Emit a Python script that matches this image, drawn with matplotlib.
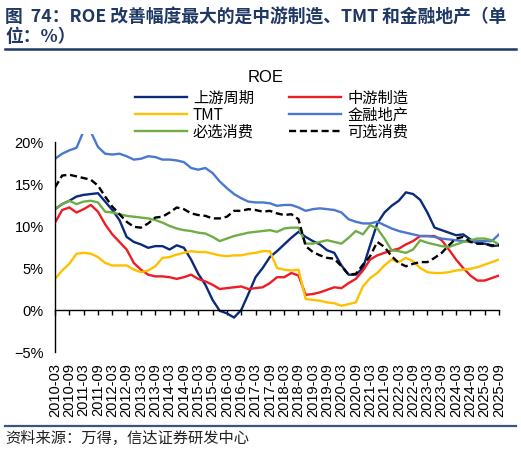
import matplotlib
matplotlib.use('Agg')

import matplotlib.pyplot as plt
from matplotlib.lines import Line2D
import pandas as pd

plt.rcParams['font.family'] = ['Liberation Sans', 'Noto Sans CJK SC', 'DejaVu Sans']
plt.rcParams['axes.unicode_minus'] = True

# quarterly, 2010-03 .. 2025-09
quarters = [p.strftime('%Y-%m') for p in pd.period_range('2010-03', '2025-09', freq='Q-DEC').to_timestamp(how='end')]

upstream = [12.0, 12.6, 13.0, 13.5, 13.7, 13.8, 13.9, 12.9, 11.9, 10.7,
            8.7, 8.1, 7.8, 7.4, 7.6, 7.6, 7.2, 7.7, 7.4, 6.0,
            4.3, 3.0, 1.2, -0.1, -0.4, -0.9, 0.0, 1.9, 3.9, 5.0,
            6.3, 7.0, 7.8, 8.6, 9.3, 8.7, 8.2, 7.8, 7.1, 6.8,
            5.3, 4.2, 4.2, 5.0, 7.7, 10.3, 11.6, 12.4, 13.0, 14.0,
            13.8, 13.1, 11.6, 9.8, 9.5, 9.2, 8.9, 9.0, 8.4, 7.9,
            7.9, 7.6, 7.7]
midstream = [10.4, 11.9, 12.2, 11.6, 12.0, 12.5, 11.7, 10.2, 9.0, 8.1,
             7.2, 5.6, 4.8, 4.2, 4.0, 4.0, 3.9, 3.7, 3.9, 4.2,
             3.7, 3.4, 3.0, 2.5, 2.6, 2.7, 2.8, 2.5, 2.6, 2.7,
             3.2, 3.9, 3.9, 4.4, 4.1, 1.8, 1.9, 2.1, 2.4, 2.7,
             2.6, 3.2, 3.7, 4.7, 6.0, 6.5, 6.8, 7.1, 7.3, 7.8,
             8.2, 8.8, 8.8, 8.8, 8.3, 7.2, 6.0, 5.0, 4.1, 3.5,
             3.5, 3.8, 4.1]
tmt = [3.7, 4.7, 5.5, 6.7, 6.8, 6.7, 6.3, 5.6, 5.3, 5.3,
       5.3, 4.8, 4.5, 4.7, 5.2, 6.2, 6.3, 6.6, 6.8, 7.0,
       6.9, 6.9, 6.7, 6.5, 6.4, 6.5, 6.5, 6.7, 6.8, 7.0,
       7.0, 5.0, 4.8, 4.7, 4.8, 1.3, 1.2, 1.1, 0.9, 0.8,
       0.5, 0.7, 0.9, 2.8, 3.8, 4.4, 5.3, 6.0, 5.7, 6.2,
       5.8, 5.0, 4.5, 4.4, 4.4, 4.5, 4.7, 4.8, 4.9, 5.1,
       5.4, 5.7, 6.0]
finance = [18.0, 18.6, 19.0, 19.3, 21.3, 21.2, 19.4, 18.6, 18.5, 18.6,
           18.3, 17.9, 18.0, 18.3, 18.2, 17.9, 17.9, 17.8, 17.6, 16.9,
           16.7, 16.9, 16.3, 15.3, 14.5, 13.8, 13.3, 12.9, 12.8, 12.8,
           12.7, 12.4, 12.5, 12.5, 12.2, 11.8, 12.0, 12.1, 12.0, 11.9,
           11.6, 10.8, 10.5, 10.3, 10.3, 10.5, 10.1, 9.7, 9.4, 9.2,
           9.0, 8.8, 8.8, 8.7, 8.5, 8.4, 8.3, 8.2, 8.1, 8.2,
           8.2, 8.2, 9.0]
staples = [12.0, 12.6, 13.0, 12.6, 12.9, 13.0, 12.8, 11.7, 11.6, 11.4,
           11.2, 11.1, 11.0, 10.9, 10.7, 10.4, 10.0, 9.7, 9.5, 9.4,
           9.2, 9.1, 8.7, 8.2, 8.5, 8.8, 9.0, 9.2, 9.3, 9.4,
           9.5, 9.3, 9.7, 9.8, 9.8, 7.9, 7.9, 8.1, 8.3, 8.1,
           7.9, 8.6, 9.4, 9.0, 10.1, 9.7, 8.5, 7.1, 7.0, 6.8,
           7.2, 8.3, 8.0, 7.8, 7.6, 7.5, 7.8, 8.1, 8.3, 8.5,
           8.5, 8.3, 7.8]
discretionary = [14.6, 16.0, 16.1, 15.9, 15.7, 15.5, 14.8, 13.5, 12.3, 11.4,
                 10.5, 9.9, 9.8, 10.3, 11.0, 11.1, 11.6, 12.2, 12.0, 11.5,
                 11.3, 11.2, 10.9, 10.9, 11.1, 11.8, 11.8, 12.0, 11.9, 11.7,
                 11.8, 11.5, 11.3, 11.4, 10.8, 7.6, 6.9, 6.5, 6.2, 6.1,
                 5.2, 4.2, 4.3, 5.4, 6.4, 8.1, 7.5, 6.4, 5.6, 5.2,
                 5.5, 5.7, 5.7, 6.2, 6.8, 7.7, 8.5, 8.7, 8.1, 7.9,
                 7.9, 7.7, 7.7]

yticks = [-5, 0, 5, 10, 15, 20]
cjk = ['Noto Sans CJK SC', 'DejaVu Sans']

fig = plt.figure(figsize=(5.21, 4.56), dpi=100)
ax = fig.add_axes([0.1056, 0.2259, 0.8522, 0.4772])

x = range(len(quarters))
l1, = ax.plot(x, upstream, color='#0B2A7A', lw=1.7)
l2, = ax.plot(x, midstream, color='#EE1C25', lw=1.7)
l3, = ax.plot(x, tmt, color='#FFC000', lw=1.7)
l4, = ax.plot(x, finance, color='#4A78CF', lw=1.7)
l5, = ax.plot(x, staples, color='#6FAD47', lw=1.7)
l6, = ax.plot(x, discretionary, color='black', lw=1.7, ls=(0, (3, 1.6)))

ax.set_xlim(0, len(quarters) - 1)
ax.set_ylim(-5, 20.9)

for s in ['top', 'right']:
    ax.spines[s].set_visible(False)
ax.spines['left'].set_bounds(-5, 20)
ax.spines['bottom'].set_position(('data', 0))
for s in ['left', 'bottom']:
    ax.spines[s].set_linewidth(1.0)

ax.set_yticks(yticks)
ax.set_yticklabels([f'{v}%'.replace('-', '\u2212') for v in yticks], fontsize=10.5)
ax.tick_params(axis='y', which='major', length=0, pad=8)
ax.set_yticks([-5, 0, 20], minor=True)
ax.tick_params(axis='y', which='minor', length=3, width=1.0, direction='out')

ax.set_xticks(list(x)[::2])
ax.set_xticklabels(quarters[::2], rotation=90, fontsize=10.5, va='top', ha='center')
ax.tick_params(axis='x', length=3.5, width=1.0, direction='out', pad=34)

fig.text(0.509, 0.829, 'ROE', ha='center', va='center', fontsize=12)
# legend fills column-wise, so order handles to read row-wise like the reference
leg = fig.legend([l1, l3, l5, l2, l4, l6],
                 ['上游周期', 'TMT', '必选消费', '中游制造', '金融地产', '可选消费'],
                 ncol=2, loc='center', bbox_to_anchor=(0.521, 0.747), frameon=False,
                 prop={'family': cjk, 'size': 11}, handlelength=3.4, handletextpad=0.4,
                 columnspacing=2.3, labelspacing=0.0, borderpad=0)

title_color = '#1F3864'
fig.text(0.0096, 0.982, '图  74：ROE 改善幅度最大的是中游制造、TMT 和金融地产（单',
         ha='left', va='top', fontsize=12.8, fontweight='bold', color=title_color, family=cjk)
fig.text(0.0096, 0.938, '位：%）', ha='left', va='top', fontsize=12.8, fontweight='bold',
         color=title_color, family=cjk)
fig.add_artist(Line2D([0.0096, 0.99], [1 - 49.5 / 456] * 2, color=title_color, lw=1.8))
fig.add_artist(Line2D([0.0096, 0.99], [1 - 426.5 / 456] * 2, color='#3A5382', lw=1.6))
fig.text(0.0096, 0.039, '资料来源：万得，信达证券研发中心', ha='left', va='center',
         fontsize=11, style='italic', color='#222222', family=cjk)

fig.savefig('out.png', dpi=100)
